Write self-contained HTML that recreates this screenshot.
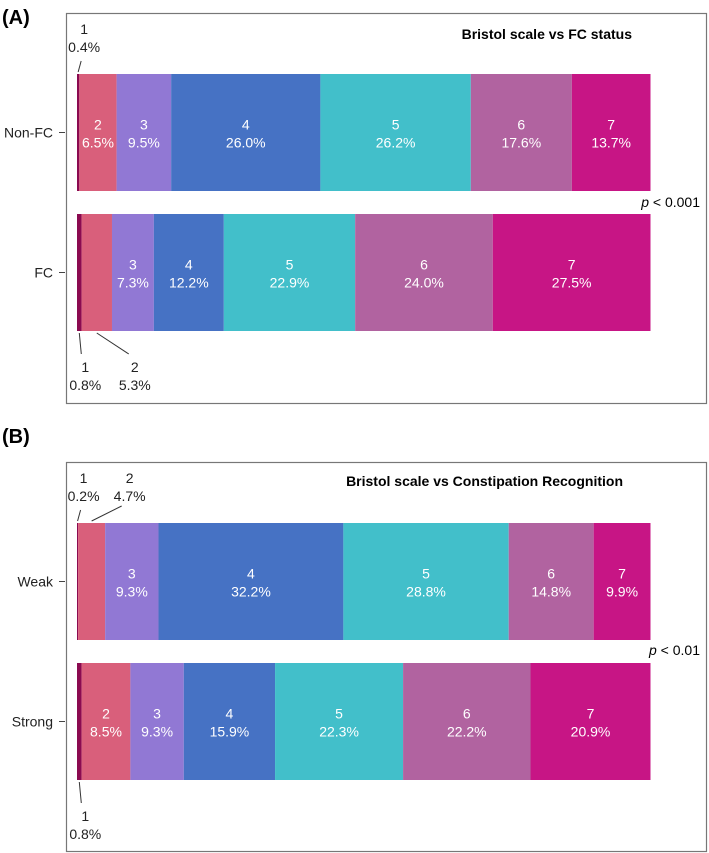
<!DOCTYPE html>
<html><head><meta charset="utf-8">
<style>
body{margin:0;background:#fff;width:709px;height:853px;overflow:hidden}
svg{display:block;font-family:"Liberation Sans",Arial,sans-serif}
</style></head>
<body>
<svg id="chart" width="709" height="853" viewBox="0 0 709 853">
  <text x="2" y="24" font-size="20" font-weight="bold">(A)</text>
  <rect x="66.5" y="13.5" width="640" height="390" fill="none" stroke="#777" stroke-width="1.2"/>
  <text x="632" y="39" text-anchor="end" font-size="14" font-weight="bold">Bristol scale vs FC status</text>
  <text x="700" y="207" text-anchor="end" font-size="14"><tspan font-style="italic">p</tspan> &lt; 0.001</text>

  <text x="2" y="443" font-size="20" font-weight="bold">(B)</text>
  <rect x="66.5" y="462.5" width="640" height="389" fill="none" stroke="#777" stroke-width="1.2"/>
  <text x="623" y="486" text-anchor="end" font-size="14" font-weight="bold">Bristol scale vs Constipation Recognition</text>
  <text x="700" y="655" text-anchor="end" font-size="14"><tspan font-style="italic">p</tspan> &lt; 0.01</text>
  <g id="bars"></g>
</svg>
<script>
const categories = ["1","2","3","4","5","6","7"];
const rowLabels = ["Non-FC","FC","Weak","Strong"];
const nonFC = [0.4, 6.5, 9.5, 26.0, 26.2, 17.6, 13.7];
const fc = [0.8, 5.3, 7.3, 12.2, 22.9, 24.0, 27.5];
const weak = [0.2, 4.7, 9.3, 32.2, 28.8, 14.8, 9.9];
const strong = [0.8, 8.5, 9.3, 15.9, 22.3, 22.2, 20.9];

const colors = ["#8b0a50","#d95f7b","#9178d4","#4672c4","#42bfca","#b163a0","#c71585"];
const rows = [
  {label: rowLabels[0], vals: nonFC, top: 74, name: "non-fc"},
  {label: rowLabels[1], vals: fc, top: 214, name: "fc"},
  {label: rowLabels[2], vals: weak, top: 523, name: "weak"},
  {label: rowLabels[3], vals: strong, top: 663, name: "strong"}
];
const X0 = 77, X1 = 650.5, BH = 117;
const NS = "http://www.w3.org/2000/svg";
const g = document.getElementById("bars");
function xs(cum, total){ return X0 + (X1 - X0) * cum / total; }
function mk(tag, attrs){ const e = document.createElementNS(NS, tag); for (const k in attrs) e.setAttribute(k, attrs[k]); return e; }

rows.forEach(r => {
  const total = r.vals.reduce((a,b)=>a+b,0);
  let cum = 0;
  const cy = r.top + BH/2;
  const tl = mk("text", {x: 53, y: cy + 5, "text-anchor": "end", "font-size": 14, fill: "#222"});
  tl.textContent = r.label;
  
  
  g.appendChild(tl);
  const tk = mk("line", {x1: 59, x2: 65, y1: cy, y2: cy, stroke: "#444"});
  
  
  g.appendChild(tk);
  r.vals.forEach((v, i) => {
    const xa = xs(cum, total), xb = xs(cum + v, total);
    cum += v;
    const rect = mk("rect", {x: xa, y: r.top, width: Math.max(xb - xa, 0), height: BH, fill: colors[i]});
    
    
    g.appendChild(rect);
    if (v >= 6) {
      const mx = (xa + xb) / 2;
      const t1 = mk("text", {x: mx, y: cy - 3, "text-anchor": "middle", "font-size": 14, fill: "#fff"});
      t1.textContent = categories[i];
      
      
      g.appendChild(t1);
      const t2 = mk("text", {x: mx, y: cy + 15, "text-anchor": "middle", "font-size": 14, fill: "#fff"});
      t2.textContent = v.toFixed(1) + "%";
      
      
      g.appendChild(t2);
    } else {
      // outside annotation with leader line
      const mx = (xa + xb) / 2;
      const above = (r.name === "non-fc" || r.name === "weak");
      let lx, ly1, ly2, tx;
      if (i === 0) { tx = mx + 6; } else { tx = mx + 38; }
      let line, ty1, ty2;
      if (above) {
        ty1 = r.top - 40; ty2 = r.top - 22;
        line = mk("line", {x1: mx, y1: r.top - 2, x2: i === 0 ? mx + 3 : tx - 8, y2: i === 0 ? r.top - 13 : r.top - 17, stroke: "#333"});
      } else {
        ty1 = r.top + BH + 41; ty2 = r.top + BH + 59;
        line = mk("line", {x1: mx, y1: r.top + BH + 2, x2: i === 0 ? mx + 2 : tx - 6, y2: r.top + BH + 23, stroke: "#333"});
      }
      
      
      g.appendChild(line);
      const a = mk("text", {x: tx, y: ty1, "text-anchor": "middle", "font-size": 14, fill: "#222"});
      a.textContent = categories[i];
      
      
      g.appendChild(a);
      const b = mk("text", {x: tx, y: ty2, "text-anchor": "middle", "font-size": 14, fill: "#222"});
      b.textContent = v.toFixed(1) + "%";
      
      
      g.appendChild(b);
    }
  });
});
</script>
</body></html>
